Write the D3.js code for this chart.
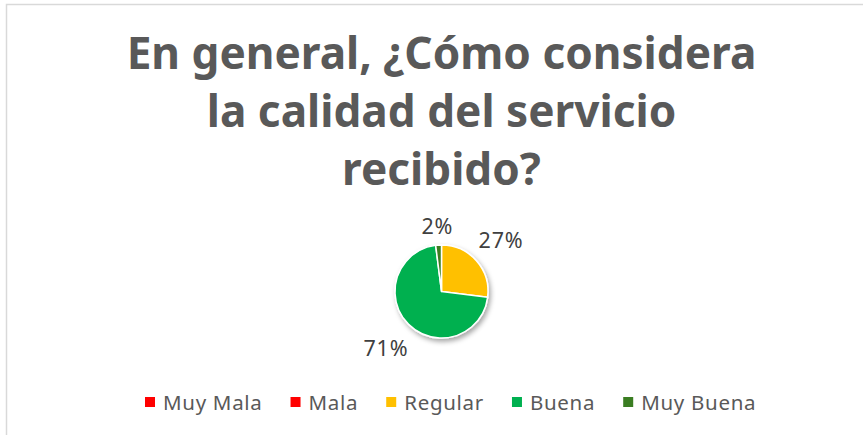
<!DOCTYPE html>
<html>
<head>
<meta charset="utf-8">
<script src="https://cdn.jsdelivr.net/npm/d3@7"></script>
<style>
  html, body { margin: 0; padding: 0; background: #fff; }
  svg { display: block; }
</style>
</head>
<body>
<div id="chart"></div>
<script>
// Survey answers (percent of respondents)
const categories = ["Muy Mala", "Mala", "Regular", "Buena", "Muy Buena"];
const values = [0, 0, 27, 71, 2];
const colors = ["#FF0000", "#FF0000", "#FFC000", "#00B050", "#3A7D22"];
const titleLines = ["En general, ¿Cómo considera", "la calidad del servicio", "recibido?"];

const width = 863;
const height = 435;
const cx = 441.5;
const cy = 291.5;
const radius = 46.5;

const svg = d3.select("#chart").append("svg").attr("width", width).attr("height", height);

// Chart frame (only top and left edges are visible in the crop)
svg.append("rect")
  .attr("x", 6.5).attr("y", 4.5)
  .attr("width", width + 20).attr("height", height + 20)
  .attr("fill", "#fff")
  .attr("stroke", "#d9d9d9")
  .attr("stroke-width", 1.5);

// Drop shadow for the pie
const defs = svg.append("defs");
const shadow = defs.append("filter").attr("id", "pieShadow")
  .attr("x", "-30%").attr("y", "-30%").attr("width", "160%").attr("height", "160%");
shadow.append("feDropShadow")
  .attr("dx", 2).attr("dy", 3).attr("stdDeviation", 2.5)
  .attr("flood-color", "#000").attr("flood-opacity", 0.35);

// Title
const title = svg.append("text")
  .attr("text-anchor", "middle")
  .attr("fill", "#595959")
  .style("font-family", "'Noto Sans', sans-serif")
  .style("font-weight", "bold")
  .style("font-size", "38px");

titleLines.forEach((line, i) => {
  title.append("tspan")
    .attr("x", cx)
    .attr("y", 69 + i * 58)
    .text(line);
});

// Fit first line to the reference width
const firstW = title.select("tspan").node().getComputedTextLength();
title.style("font-size", (38 * 630 / firstW) + "px");

// Pie
const data = categories.map((c, i) => ({ category: c, value: values[i], color: colors[i] }));
const pie = d3.pie().value((d) => d.value).sort(null);
const arcs = pie(data);
const arc = d3.arc().innerRadius(0).outerRadius(radius);

const pieG = svg.append("g")
  .attr("transform", `translate(${cx},${cy})`);

pieG.append("g")
  .attr("filter", "url(#pieShadow)")
  .selectAll("path")
  .data(arcs.filter((d) => d.value > 0))
  .join("path")
  .attr("d", arc)
  .attr("fill", (d) => d.data.color)
  .attr("stroke", "#fff")
  .attr("stroke-width", 1.5)
  .attr("stroke-linejoin", "round");

// Data labels placed just outside the pie
const labelR = radius + 11;
const labels = pieG.append("g")
  .selectAll("text")
  .data(arcs.filter((d) => d.value > 0))
  .join("text")
  .attr("text-anchor", "middle")
  .attr("dominant-baseline", "central")
  .attr("fill", "#404040")
  .style("font-family", "'Noto Sans', sans-serif")
  .style("font-size", "21.5px")
  .style("letter-spacing", "0.8px")
  .text((d) => d.value + "%");

labels.each(function (d) {
  const a = (d.startAngle + d.endAngle) / 2;
  const w = this.getComputedTextLength();
  const h = 15;
  const r = labelR + Math.abs(Math.sin(a)) * w / 2 + Math.abs(Math.cos(a)) * h / 2;
  d3.select(this)
    .attr("x", Math.sin(a) * r)
    .attr("y", -Math.cos(a) * r);
});

// Legend
const legend = svg.append("g").attr("transform", "translate(145,402)");
let lx = 0;
categories.forEach((c, i) => {
  const item = legend.append("g").attr("transform", `translate(${lx},0)`);
  item.append("rect")
    .attr("x", 0).attr("y", -5)
    .attr("width", 10).attr("height", 10)
    .attr("fill", colors[i]);
  const t = item.append("text")
    .attr("x", 18).attr("y", 7.5)
    .attr("fill", "#595959")
    .style("font-family", "'Noto Sans', sans-serif")
    .style("font-size", "20.5px")
    .style("letter-spacing", "0.7px")
    .text(c);
  lx += 18 + t.node().getComputedTextLength() + 28;
});
</script>
</body>
</html>
